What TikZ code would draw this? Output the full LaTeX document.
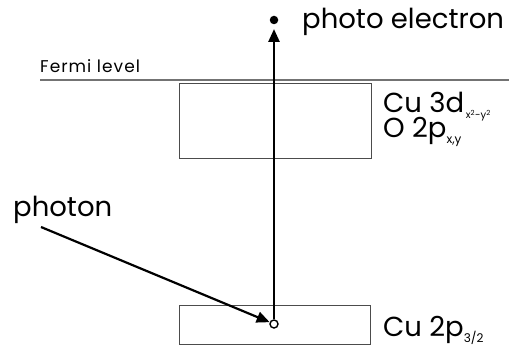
\documentclass[tikz,border=0pt]{standalone}
\usepackage{fontspec}
\setmainfont{Poppins}
\usetikzlibrary{arrows.meta}
\begin{document}
\begin{tikzpicture}[x=1pt,y=-1pt,
  lbl/.style={inner sep=0pt,anchor=base west,font=\fontsize{27.5}{30}\selectfont},
  small/.style={inner sep=0pt,anchor=base west,font=\fontsize{17}{18}\selectfont\addfontfeature{LetterSpace=6}},
  level/.style={draw=black!70,line width=0.8pt},
  arr/.style={line width=2.6pt,-{Triangle[length=13pt,width=11pt]}}]
\useasboundingbox (0,0) rectangle (509,347);
\draw[draw=black!55,line width=1.6pt] (40,80) -- (509,80);
\node[small] (fermi) at (40,72.5) {Fermi level};
\node[level,minimum width=192pt,minimum height=75pt,anchor=north west] (vb) at (179,83.5) {};
\node[level,minimum width=191pt,minimum height=39pt,anchor=north west] (core) at (179,305) {};
\node[draw,fill=white,circle,line width=1.4pt,minimum size=8pt,inner sep=0pt] (hole) at (274,324) {};
\node[fill=black,circle,minimum size=8.5pt,inner sep=0pt] (el) at (274,20) {};
\coordinate (tip) at (274,29);
\draw[arr] (hole) -- (tip);
\coordinate (ph) at (41,227);
\draw[arr,line width=2.2pt] (ph) -- (hole);
\node[lbl] (pe) at (302,29) {photo electron};
\node[lbl] (cu3d) at (383,113) {Cu 3d\raisebox{-6pt}{\fontsize{10}{11}\selectfont\,x\textsuperscript{2}-y\textsuperscript{2}}};
\node[lbl] (o2p) at (383,138) {O 2p\raisebox{-6pt}{\fontsize{12}{13}\selectfont x,y}};
\node[lbl] (photon) at (13,217) {photon};
\node[lbl] (cu2p) at (383,337) {Cu 2p\raisebox{-5.5pt}{\fontsize{12}{13}\selectfont 3/2}};
\end{tikzpicture}
\end{document}
